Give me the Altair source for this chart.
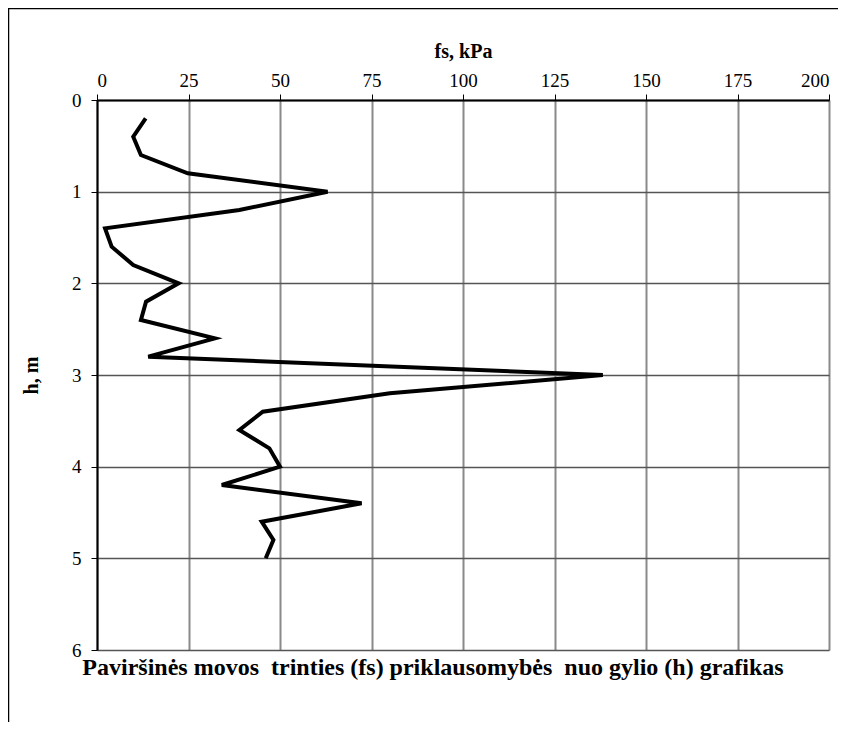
import altair as alt
import pandas as pd

h = [0.2, 0.4, 0.6, 0.8, 1.0, 1.2, 1.4, 1.6, 1.8, 2.0, 2.2, 2.4, 2.6, 2.8, 3.0,
     3.2, 3.4, 3.6, 3.8, 4.0, 4.2, 4.4, 4.6, 4.8, 5.0]
fs = [13.3, 9.9, 12.0, 24.8, 63.0, 38.9, 2.2, 4.0, 9.9, 22.3, 13.4, 12.0, 32.2, 14.0, 138.2,
      80.0, 45.3, 38.9, 47.1, 50.0, 34.1, 72.3, 45.0, 48.2, 46.1]
x_ticks = [0, 25, 50, 75, 100, 125, 150, 175, 200]
y_ticks = [0, 1, 2, 3, 4, 5, 6]
caption = "Paviršinės movos \u00a0trinties (fs) priklausomybės \u00a0nuo gylio (h) grafikas"

df = pd.DataFrame({"h": h, "fs": fs})
FONT = "Liberation Serif"

line = alt.Chart(df).mark_line(color="black", strokeWidth=4, strokeJoin="miter").encode(
    x=alt.X("fs:Q", scale=alt.Scale(domain=[0, 200], nice=False),
            axis=alt.Axis(orient="top", values=x_ticks, title="fs, kPa",
                          grid=True, gridColor="#8a8a8a", gridWidth=2,
                          domainColor="black", domainWidth=2,
                          tickColor="black", tickSize=6, tickWidth=1,
                          labelFont=FONT, labelFontSize=19, labelColor="black",
                          labelPadding=4,
                          titleFont=FONT, titleFontSize=20, titleFontWeight="bold",
                          titleColor="black", titlePadding=10)),
    y=alt.Y("h:Q", scale=alt.Scale(domain=[0, 6], reverse=True, nice=False),
            axis=alt.Axis(orient="left", values=y_ticks, title="h, m",
                          grid=True, gridColor="#555555", gridWidth=1.5,
                          domainColor="black", domainWidth=2,
                          tickColor="black", tickSize=6, tickWidth=1,
                          labelFont=FONT, labelFontSize=19, labelColor="black",
                          labelPadding=10,
                          titleFont=FONT, titleFontSize=20, titleFontWeight="bold",
                          titleColor="black", titlePadding=30)),
    order=alt.Order("h:Q"),
)

frame = alt.Chart(pd.DataFrame({"a": [0]})).mark_rect(
    fill=None, stroke="black", strokeWidth=1.5, clip=False
).encode(
    x=alt.value(-88.5), x2=alt.value(900), y=alt.value(-91.5), y2=alt.value(900)
)

cap = alt.Chart(pd.DataFrame({"t": [caption]})).mark_text(
    font=FONT, fontSize=24, fontWeight="bold", color="black",
    align="center", baseline="alphabetic", clip=False
).encode(
    text="t:N", x=alt.value(336), y=alt.value(575)
)

chart = alt.layer(frame, line, cap).properties(
    width=732, height=550,
    autosize=alt.AutoSizeParams(type="none"),
    padding={"left": 89, "top": 92, "right": 9, "bottom": 72},
    background="white",
).configure_view(strokeWidth=0)

chart.save("out.html", embed_options={"renderer": "svg", "actions": False})
